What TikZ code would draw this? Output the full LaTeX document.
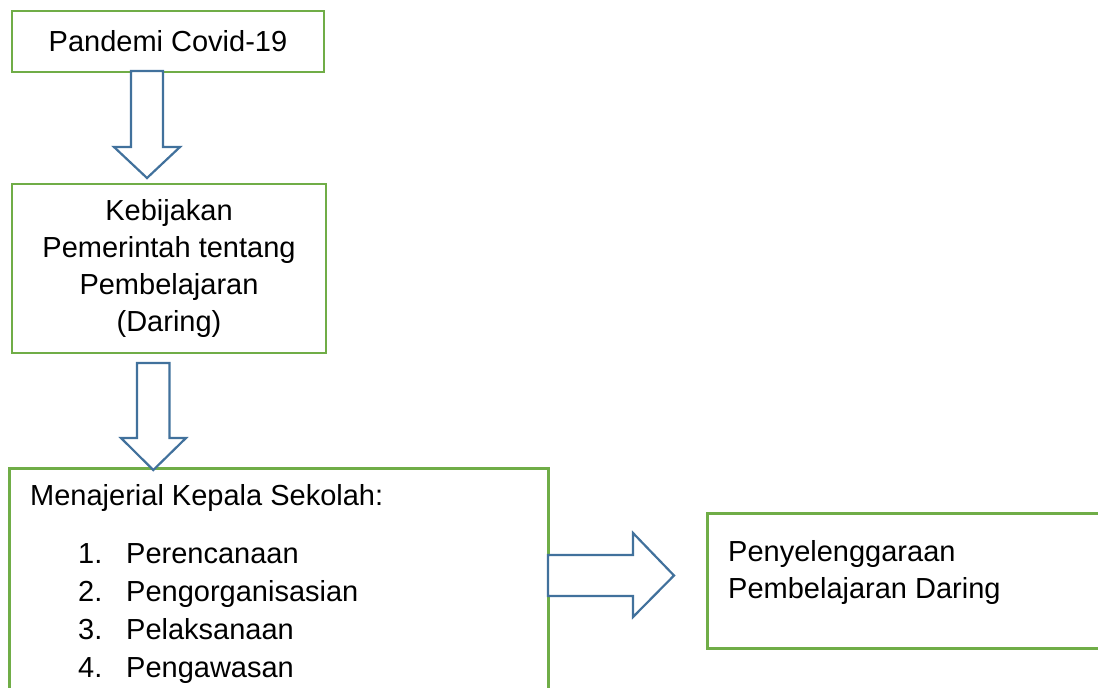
\documentclass[tikz,border=0pt]{standalone}
\usepackage{fontspec}
\setmainfont{Liberation Sans}
\definecolor{boxgreen}{HTML}{70AD47}
\definecolor{arrowblue}{HTML}{41719C}
\tikzset{
  box/.style={draw=boxgreen, line width=2.5pt},
  bigarrow/.style={draw=arrowblue, line width=2.2pt, fill=white, line join=miter},
  txt/.style={inner sep=0pt, anchor=base west, font=\fontsize{29}{36.7}\selectfont},
}
\begin{document}
\begin{tikzpicture}[x=1pt,y=-1pt]
\clip (0,0) rectangle (1098,688);
\node[box, minimum width=312pt, minimum height=61pt, inner sep=0pt, font=\fontsize{29}{36.7}\selectfont] (covid) at (168,41.5) {Pandemi Covid-19};
\node[box, minimum width=314pt, minimum height=169pt, inner sep=0pt, align=center, font=\fontsize{29}{36.7}\selectfont] (kebijakan) at (169,268.5) {Kebijakan\\Pemerintah tentang\\Pembelajaran\\(Daring)};
\node[box, anchor=north west, minimum width=539pt, minimum height=260pt] (manajerial) at (8,467) {};
\node[box, anchor=north west, minimum width=420pt, minimum height=135pt] (daring) at (706,512) {};
\draw[bigarrow] (131,71) -- (163,71) -- (163,147) -- (180,147) -- (147,178) -- (114,147) -- (131,147) -- cycle;
\draw[bigarrow] (137,363) -- (169.5,363) -- (169.5,438) -- (186,438) -- (153.3,470) -- (121,438) -- (137,438) -- cycle;
\draw[bigarrow] (548,555) -- (633,555) -- (633,533) -- (674,575.5) -- (633,617) -- (633,596) -- (548,596) -- cycle;
\node[txt] (judul) at (30,505) {Menajerial Kepala Sekolah:};
\node[txt] (no1) at (78,563) {1.};
\node[txt] (item1) at (126,563) {Perencanaan};
\node[txt] (no2) at (78,601) {2.};
\node[txt] (item2) at (126,601) {Pengorganisasian};
\node[txt] (no3) at (78,639) {3.};
\node[txt] (item3) at (126,639) {Pelaksanaan};
\node[txt] (no4) at (78,677) {4.};
\node[txt] (item4) at (126,677) {Pengawasan};
\node[txt] (hasil1) at (728,561) {Penyelenggaraan};
\node[txt] (hasil2) at (728,598) {Pembelajaran Daring};
\end{tikzpicture}
\end{document}
